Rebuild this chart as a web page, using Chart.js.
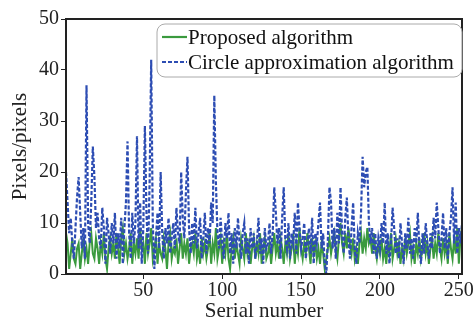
<!DOCTYPE html>
<html>
<head>
<meta charset="utf-8">
<script src="https://cdn.jsdelivr.net/npm/chart.js@4"></script>
<style>
  body { margin: 0; background: #fff; }
  #wrap { width: 475px; height: 324px; }
</style>
</head>
<body>
<div id="wrap"><canvas id="chart" width="475" height="324"></canvas></div>
<script>
// serial numbers 1..252
var serial = [];
for (var i = 1; i <= 252; i++) serial.push(i);

var seriesNames = ["Proposed algorithm", "Circle approximation algorithm"];
var xTicks = [50, 100, 150, 200, 250];

// Proposed algorithm (green, solid)
var proposed = [
  8, 6, 1, 4, 7, 3, 2, 5, 6, 1,
  4, 7, 3, 5, 2, 6, 8, 4, 3, 7,
  5, 2, 6, 4, 8, 3, 1, 5, 7, 4,
  6, 3, 8, 5, 2, 7, 9, 4, 6, 3,
  5, 8, 2, 6, 4, 7, 3, 9, 5, 6,
  2, 8, 4, 6, 9, 3, 5, 7, 2, 6,
  4, 3, 7, 5, 1, 6, 8, 3, 5, 4,
  7, 2, 5, 8, 3, 6, 4, 7, 2, 5,
  6, 4, 8, 3, 5, 2, 7, 4, 6, 3,
  5, 8, 2, 6, 4, 9, 3, 5, 7, 2,
  6, 4, 8, 3, 1, 5, 7, 3, 6, 4,
  2, 7, 5, 3, 8, 4, 6, 2, 5, 7,
  3, 6, 4, 8, 2, 5, 7, 3, 4, 6,
  2, 5, 8, 4, 6, 3, 7, 5, 2, 6,
  4, 8, 3, 5, 7, 2, 6, 4, 9, 5,
  3, 6, 4, 8, 5, 2, 7, 4, 6, 3,
  5, 2, 6, 4, 1, 3, 5, 7, 4, 6,
  8, 5, 3, 7, 10, 6, 4, 8, 5, 9,
  6, 4, 7, 3, 5, 2, 6, 8, 4, 7,
  5, 9, 6, 7, 4, 8, 5, 3, 6, 4,
  7, 3, 5, 2, 6, 4, 8, 3, 5, 7,
  4, 6, 2, 5, 3, 7, 4, 6, 8, 3,
  5, 2, 6, 4, 7, 3, 5, 8, 4, 6,
  2, 5, 7, 3, 6, 4, 8, 5, 3, 7,
  4, 6, 2, 8, 5, 3, 7, 4, 9, 2,
  7, 9
];

// Circle approximation algorithm (blue, dashed)
var circle = [
  20, 14, 8, 11, 6, 3, 9, 15, 19, 12,
  5, 9, 3, 37, 10, 6, 14, 25, 19, 9,
  12, 7, 5, 13, 9, 2, 11, 8, 4, 10,
  6, 12, 3, 8, 5, 11, 2, 9, 14, 26,
  8, 3, 12, 6, 10, 27, 5, 14, 2, 9,
  29, 12, 4, 18, 42, 10, 1, 7, 12, 5,
  20, 8, 3, 9, 6, 11, 4, 7, 10, 5,
  13, 8, 6, 20, 11, 7, 16, 23, 9, 4,
  10, 6, 13, 5, 8, 11, 3, 7, 12, 4,
  9, 6, 14, 10, 35, 18, 8, 5, 11, 6,
  3, 10, 7, 12, 4, 8, 2, 9, 5, 11,
  6, 3, 8, 10, 4, 7, 2, 9, 5, 8,
  3, 6, 11, 4, 7, 2, 9, 5, 6, 10,
  4, 8, 17, 12, 6, 9, 3, 11, 17, 7,
  5, 10, 3, 8, 6, 12, 4, 14, 9, 5,
  7, 10, 3, 6, 9, 4, 11, 2, 8, 6,
  10, 14, 5, 8, 2, 0, 7, 17, 14, 5,
  9, 3, 12, 6, 17, 8, 4, 11, 15, 7,
  3, 9, 14, 5, 2, 8, 6, 12, 23, 17,
  20, 21, 10, 6, 9, 4, 8, 3, 7, 5,
  10, 6, 14, 4, 8, 2, 6, 13, 9, 4,
  7, 3, 10, 6, 2, 8, 5, 11, 4, 7,
  3, 9, 6, 12, 5, 2, 8, 4, 10, 6,
  3, 8, 5, 11, 7, 14, 9, 4, 7, 12,
  5, 9, 3, 8, 11, 17, 6, 14, 4, 9,
  6, 10
];

var green = "#3a9a3e";
var blue = "#2d4db3";
var serif = "'Liberation Serif', 'Times New Roman', serif";

function toPoints(ys) {
  return ys.map(function (v, k) { return { x: serial[k], y: v }; });
}

// frame round the plot + legend box inside it
var framePlugin = {
  id: "frame",
  afterDatasetsDraw: function (chart) {
    var ctx = chart.ctx, a = chart.chartArea;
    ctx.save();
    ctx.strokeStyle = "#222";
    ctx.lineWidth = 2;
    ctx.strokeRect(a.left, a.top, a.right - a.left, a.bottom - a.top);

    // legend
    var lx = 157, ly = 24, lw = 305, lh = 53;
    ctx.beginPath();
    ctx.roundRect(lx, ly, lw, lh, 8);
    ctx.fillStyle = "rgba(255,255,255,0.9)";
    ctx.fill();
    ctx.strokeStyle = "#aaa";
    ctx.lineWidth = 1;
    ctx.stroke();

    var rows = [
      { y: 37, color: green, dash: [] },
      { y: 62, color: blue, dash: [4, 2] }
    ];
    ctx.font = "21px " + serif;
    ctx.textBaseline = "middle";
    ctx.fillStyle = "#111";
    rows.forEach(function (r, k) {
      ctx.beginPath();
      ctx.setLineDash(r.dash);
      ctx.strokeStyle = r.color;
      ctx.lineWidth = 2.2;
      ctx.moveTo(162, r.y);
      ctx.lineTo(187, r.y);
      ctx.stroke();
      ctx.setLineDash([]);
      ctx.fillText(seriesNames[k], 188, r.y + 1);
    });
    ctx.restore();
  }
};

var ctx = document.getElementById("chart").getContext("2d");
var chart = new Chart(ctx, {
  type: "line",
  data: {
    datasets: [{
      label: seriesNames[0],
      data: toPoints(proposed),
      borderColor: green,
      borderWidth: 2,
      pointRadius: 0,
      order: 1
    }, {
      label: seriesNames[1],
      data: toPoints(circle),
      borderColor: blue,
      borderWidth: 2.2,
      borderDash: [4, 2],
      pointRadius: 0,
      order: 0
    }]
  },
  options: {
    responsive: false,
    animation: false,
    devicePixelRatio: 1,
    layout: { padding: { left: 8, right: 13, top: 19, bottom: 0 } },
    plugins: { legend: { display: false }, tooltip: { enabled: false } },
    scales: {
      x: {
        type: "linear",
        min: 1,
        max: 252,
        afterBuildTicks: function (scale) {
          scale.ticks = xTicks.map(function (v) { return { value: v }; });
        },
        afterFit: function (scale) { scale.height = 50; },
        grid: { drawOnChartArea: false, drawTicks: true, tickLength: 5, color: "#222" },
        border: { display: false },
        ticks: { color: "#222", font: { family: serif, size: 20 }, maxRotation: 0, padding: 0 },
        title: { display: true, text: "Serial number", color: "#222", font: { family: serif, size: 21 }, padding: { top: 0, bottom: 0 } }
      },
      y: {
        min: 0,
        max: 50,
        ticks: { stepSize: 10, color: "#222", font: { family: serif, size: 20 }, padding: 2 },
        afterFit: function (scale) { scale.width = 58; },
        grid: { drawOnChartArea: false, drawTicks: true, tickLength: 5, color: "#222" },
        border: { display: false },
        title: { display: true, text: "Pixels/pixels", color: "#222", font: { family: serif, size: 21 }, padding: { top: 0, bottom: 0 } }
      }
    }
  },
  plugins: [framePlugin]
});
</script>
</body>
</html>
